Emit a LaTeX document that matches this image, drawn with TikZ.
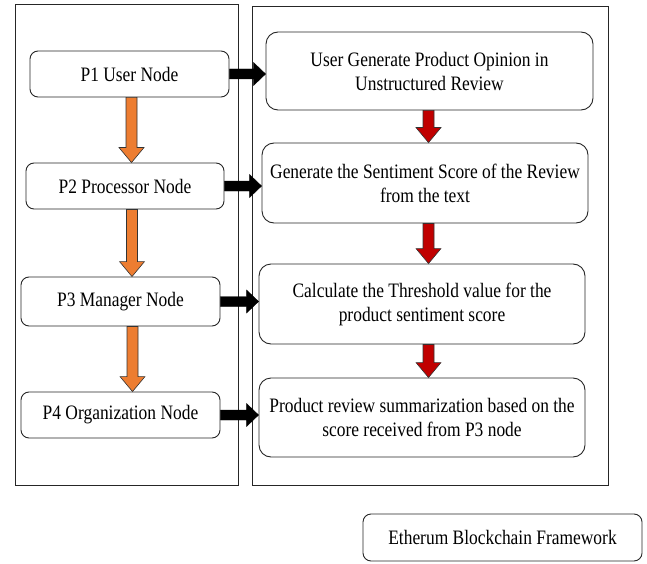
\documentclass[tikz,border=0pt]{standalone}
\usepackage{fontspec}
\setmainfont{Liberation Serif}[FakeStretch=0.85]
\usetikzlibrary{calc}
\definecolor{arroworange}{HTML}{ED7D31}
\definecolor{arrowred}{HTML}{C00000}

\tikzset{
	box/.style={draw=black!85, line width=0.9pt, rounded corners=8pt, align=center, inner sep=2pt},
	% block arrow going down, from the south of one node to the north of the next
	% (#1 = fill colour, #2 = sideways shift of the arrow)
	downarrow/.style 2 args={draw=black!80, line width=0.6pt, fill=#1, to path={
		let \p1=(\tikztostart.south), \p2=(\tikztotarget.north), \n1={\x1+#2} in
		(\n1-5.5pt,\y1) -- (\n1+5.5pt,\y1) -- (\n1+5.5pt,\y2+15pt) -- (\n1+12.5pt,\y2+15pt)
		-- (\n1,\y2) -- (\n1-12.5pt,\y2+15pt) -- (\n1-5.5pt,\y2+15pt) -- cycle}},
	% black block arrow going right
	rightarrow/.style={fill=black, to path={
		let \p1=(\tikztostart.east), \p2=(\tikztotarget.west) in
		(\x1,\y1-5pt) -- (\x2-12pt,\y1-5pt) -- (\x2-12pt,\y1-11.5pt) -- (\x2,\y1)
		-- (\x2-12pt,\y1+11.5pt) -- (\x2-12pt,\y1+5pt) -- (\x1,\y1+5pt) -- cycle}}
}

\begin{document}
\begin{tikzpicture}[x=1pt, y=-1pt, font=\fontsize{20.5}{24}\selectfont]
	\useasboundingbox (0,0) rectangle (647,564);

	% the two frames
	\draw[black!85, line width=0.9pt] (15,4) rectangle (238,485);
	\draw[black!85, line width=0.9pt] (252,6) rectangle (608,485);

	\node (P1) at (129.5,74)  [box, minimum width=199pt, minimum height=46pt] {P1 User Node};
	\node (P2) at (125,186)   [box, minimum width=198pt, minimum height=46pt] {P2 Processor Node};
	\node (P3) at (120.5,301.5) [box, minimum width=199pt, minimum height=49pt] {P3 Manager Node};
	\node (P4) at (120.5,415) [box, minimum width=199pt, minimum height=46pt] {P4 Organization Node};

	\node (R1) at (429.5,71)  [box, rounded corners=12pt, minimum width=327pt, minimum height=78pt] {User Generate Product Opinion in\\Unstructured Review};
	\node (R2) at (425,183)   [box, rounded corners=12pt, minimum width=326pt, minimum height=80pt] {Generate the Sentiment Score of the Review\\from the text};
	\node (R3) at (422,304)   [box, rounded corners=12pt, minimum width=326pt, minimum height=80pt] {Calculate the Threshold value for the\\product sentiment score};
	\node (R4) at (422,417.5) [box, rounded corners=12pt, minimum width=326pt, minimum height=79pt] {Product review summarization based on the\\score received from P3 node};

	\node (E) at (502.5,537.5) [box, minimum width=279pt, minimum height=47pt] {Etherum Blockchain Framework};

	% Draw the arrows between the nodes
	\draw[downarrow={arroworange}{2pt}] (P1) to (P2);
	\draw[downarrow={arroworange}{7pt}] (P2) to (P3);
	\draw[downarrow={arroworange}{12pt}] (P3) to (P4);
	\draw[downarrow={arrowred}{-1pt}] (R1) to (R2);
	\draw[downarrow={arrowred}{3.5pt}] (R2) to (R3);
	\draw[downarrow={arrowred}{6.5pt}] (R3) to (R4);
	\foreach \i in {1,...,4}
		\draw[rightarrow] (P\i) to (R\i);
\end{tikzpicture}
\end{document}
